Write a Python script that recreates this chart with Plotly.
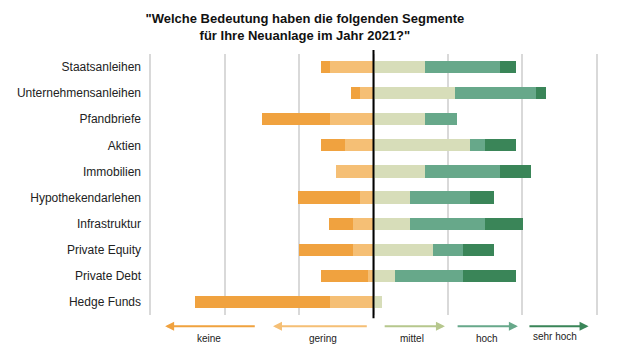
import plotly.graph_objects as go

categories = ["Staatsanleihen", "Unternehmensanleihen", "Pfandbriefe", "Aktien", "Immobilien",
              "Hypothekendarlehen", "Infrastruktur", "Private Equity", "Private Debt", "Hedge Funds"]
keine = [2.4, 2.5, 18.3, 6.4, 0, 16.6, 6.4, 14.5, 12.5, 36.5]
gering = [11.6, 3.6, 11.6, 7.6, 10.0, 3.6, 5.6, 5.6, 1.5, 11.6]
mittel = [13.9, 21.9, 13.9, 26.0, 13.9, 9.8, 9.8, 15.9, 5.9, 2.3]
hoch = [20.1, 21.9, 8.5, 4.0, 20.1, 16.1, 20.1, 8.1, 18.1, 0]
sehr_hoch = [4.3, 2.5, 0, 8.3, 8.3, 6.4, 10.3, 8.4, 14.3, 0]

legend_labels = ["keine", "gering", "mittel", "hoch", "sehr hoch"]
bar_colors = ["#F0A23F", "#F5BF75", "#D7DDB9", "#67A88A", "#3A8558"]
arrow_colors = ["#F0A23F", "#F5BF75", "#B6C78D", "#67A88A", "#3A8558"]

fig = go.Figure()
bw = 0.47
fig.add_trace(go.Bar(y=categories, x=[-v for v in gering], orientation="h",
                     marker=dict(color=bar_colors[1], line_width=0), width=bw, name="gering"))
fig.add_trace(go.Bar(y=categories, x=[-v for v in keine], orientation="h",
                     marker=dict(color=bar_colors[0], line_width=0), width=bw, name="keine"))
fig.add_trace(go.Bar(y=categories, x=mittel, orientation="h",
                     marker=dict(color=bar_colors[2], line_width=0), width=bw, name="mittel"))
fig.add_trace(go.Bar(y=categories, x=hoch, orientation="h",
                     marker=dict(color=bar_colors[3], line_width=0), width=bw, name="hoch"))
fig.add_trace(go.Bar(y=categories, x=sehr_hoch, orientation="h",
                     marker=dict(color=bar_colors[4], line_width=0), width=bw, name="sehr hoch"))

# zero line
fig.add_shape(type="line", xref="x", yref="paper", x0=0, x1=0, y0=-0.012, y1=1.015,
              line=dict(color="black", width=2), layer="above")

# legend arrows (tail, head) in data units
arrows = [(-31.5, -56.0), (-1.4, -27.0), (2.6, 19.2), (22.2, 38.8), (41.5, 57.8)]
label_x = [-44.2, -13.5, 10.3, 30.5, 48.8]
for (tail, head), col, lab, lx in zip(arrows, arrow_colors, legend_labels, label_x):
    fig.add_annotation(x=head, y=-0.043, ax=tail, ay=0, xref="x", yref="paper",
                       axref="x", ayref="pixel", text="", showarrow=True,
                       arrowhead=2, arrowsize=0.9, arrowwidth=2, arrowcolor=col)
    fig.add_annotation(x=lx, y=-0.09 if lab != "sehr hoch" else -0.083, xref="x", yref="paper",
                       text=lab, showarrow=False, font=dict(size=10, color="#222"),
                       yanchor="middle")

fig.update_layout(
    width=621, height=352,
    margin=dict(l=148, r=22, t=54, b=37),
    paper_bgcolor="white", plot_bgcolor="white",
    barmode="relative", bargap=0,
    showlegend=False,
    font=dict(family="Liberation Sans, Arial, sans-serif", size=12, color="#222"),
    title=dict(text='<b>"Welche Bedeutung haben die folgenden Segmente<br>für Ihre Neuanlage im Jahr 2021?"</b>',
               x=0.491, xref="container", xanchor="center", y=0.935, yref="container",
               yanchor="middle", font=dict(size=13, color="#111")),
    xaxis=dict(range=[-60.6, 60.6], tickvals=[-60, -40, -20, 0, 20, 40, 60], showticklabels=False,
               showgrid=True, gridcolor="#D9D9D9", gridwidth=1.5, zeroline=False, showline=False),
    yaxis=dict(autorange="reversed", showgrid=False, zeroline=False, showline=False,
               ticks="", ticklabelstandoff=6, tickfont=dict(size=12, color="#222")),
)

fig.write_html("out.html")
